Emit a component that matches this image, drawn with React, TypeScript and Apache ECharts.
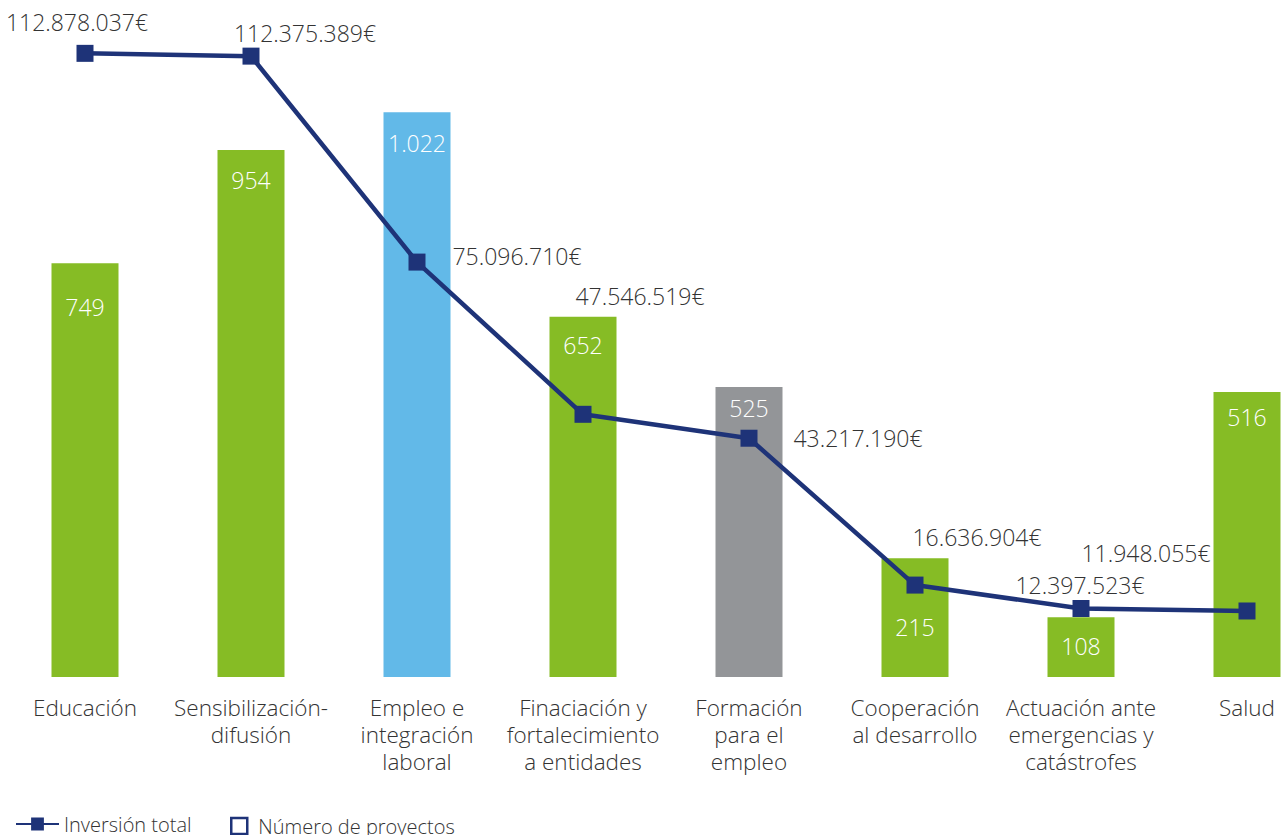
import React, { useEffect, useRef } from "react";
import * as echarts from "echarts";

const categories = [
  "Educación",
  "Sensibilización-\ndifusión",
  "Empleo e\nintegración\nlaboral",
  "Finaciación y\nfortalecimiento\na entidades",
  "Formación\npara el\nempleo",
  "Cooperación\nal desarrollo",
  "Actuación ante\nemergencias y\ncatástrofes",
  "Salud",
];
const numeroProyectos = [749, 954, 1022, 652, 525, 215, 108, 516];
const inversionTotal = [112878037, 112375389, 75096710, 47546519, 43217190, 16636904, 12397523, 11948055];

const GREEN = "#86bc25";
const BLUE = "#62b9e8";
const GRAY = "#939598";
const NAVY = "#1e3378";
const TEXT = "#333333";
const FONT = "'Open Sans', 'Noto Sans', sans-serif";

const barColors = [GREEN, GREEN, BLUE, GREEN, GRAY, GREEN, GREEN, GREEN];
const barLabelShift = [15, 2, 2, 0, -7, 40, 0, -3];
const lineLabelShift = [
  [-8, -31],
  [54, -23],
  [100, -6],
  [57, -118],
  [109, 0],
  [62, -48],
  [-1, -24],
  [-101, -58],
];

const fmt = (v: number) => String(v).replace(/\B(?=(\d{3})+(?!\d))/g, ".");

export default function App() {
  const ref = useRef<HTMLDivElement>(null);
  useEffect(() => {
    if (!ref.current) return;
    const chart = echarts.init(ref.current, null, { renderer: "svg" });
    chart.setOption({
      animation: false,
      textStyle: { fontFamily: FONT },
      grid: { left: 85, right: 38, top: 14, bottom: 158, containLabel: false },
      legend: [
        {
          data: [{ name: "Inversión total" }],
          left: 10,
          top: 809,
          itemWidth: 43,
          itemHeight: 16,
          textStyle: { fontSize: 20, color: TEXT, fontFamily: FONT, fontWeight: 300, padding: [0, 0, 0, 0] },
        },
        {
          data: [
            {
              name: "Número de proyectos",
              icon: "rect",
              itemStyle: { color: "#ffffff", borderColor: NAVY, borderWidth: 2.5 },
            },
          ],
          left: 225,
          top: 811,
          itemWidth: 16,
          itemHeight: 16,
          textStyle: { fontSize: 20, color: TEXT, fontFamily: FONT, fontWeight: 300, padding: [0, 0, 0, 6] },
        },
      ],
      xAxis: {
        type: "category",
        data: categories,
        boundaryGap: false,
        axisLine: { show: false },
        axisTick: { show: false },
        splitLine: { show: false },
        axisLabel: {
          interval: 0,
          fontSize: 22.5,
          lineHeight: 27,
          color: TEXT,
          margin: 17,
          fontFamily: FONT,
          fontWeight: 300,
        },
      },
      yAxis: [
        { type: "value", min: 0, max: 1200, show: false, splitLine: { show: false } },
        { type: "value", min: 0, max: 120000000, show: false, splitLine: { show: false } },
      ],
      series: [
        {
          name: "Número de proyectos",
          type: "bar",
          yAxisIndex: 0,
          barWidth: 67,
          clip: false,
          itemStyle: { color: NAVY },
          data: numeroProyectos.map((v, i) => ({
            value: v,
            itemStyle: { color: barColors[i] },
            label: { offset: [0, barLabelShift[i]] },
          })),
          label: {
            show: true,
            position: "insideTop",
            distance: 17,
            color: "#ffffff",
            fontSize: 23,
            fontFamily: FONT,
            fontWeight: 300,
            formatter: (p: any) => fmt(p.value),
          },
          z: 2,
        },
        {
          name: "Inversión total",
          type: "line",
          yAxisIndex: 1,
          symbol: "rect",
          symbolSize: 17,
          clip: false,
          lineStyle: { color: NAVY, width: 4.5 },
          itemStyle: { color: NAVY },
          data: inversionTotal.map((v, i) => ({
            value: v,
            label: { offset: lineLabelShift[i] },
          })),
          label: {
            show: true,
            position: "inside",
            align: "center",
            verticalAlign: "middle",
            color: TEXT,
            fontSize: 23,
            fontFamily: FONT,
            fontWeight: 300,
            formatter: (p: any) => fmt(p.value) + "€",
          },
          z: 5,
        },
      ],
    });
    return () => chart.dispose();
  }, []);
  return (
    <div
      ref={ref}
      style={{ position: "absolute", left: 0, top: 0, width: 1285, height: 835, background: "#ffffff" }}
    />
  );
}
